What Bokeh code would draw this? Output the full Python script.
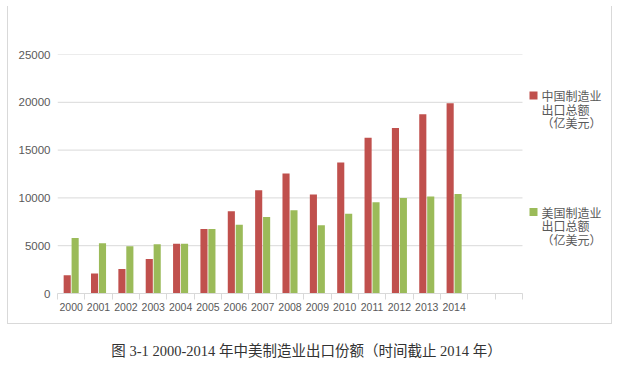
from bokeh.plotting import figure
from bokeh.models import (ColumnDataSource, Range1d, FixedTicker, BasicTickFormatter, LinearAxis)
from bokeh.core.properties import value
from bokeh.transform import dodge
from bokeh.embed import file_html
from bokeh.resources import INLINE

# ---- data ----
years = [2000, 2001, 2002, 2003, 2004, 2005, 2006, 2007, 2008, 2009,
         2010, 2011, 2012, 2013, 2014]
china = [1900, 2100, 2550, 3600, 5200, 6750, 8600, 10800, 12550, 10350,
         13700, 16300, 17300, 18750, 19900]
usa = [5800, 5250, 4950, 5150, 5200, 6750, 7200, 8000, 8700, 7150,
       8350, 9550, 10000, 10150, 10400]
empty_slots = [2015, 2016]          # two empty category slots at the right
y_ticks = [0, 5000, 10000, 15000, 20000, 25000]
series_lines = [["中国制造业", "出口总额", "（亿美元）"],
                ["美国制造业", "出口总额", "（亿美元）"]]
series_colors = ["#C0504D", "#9BBB59"]
caption = "图 3-1 2000-2014 年中美制造业出口份额（时间截止 2014 年）"

GRID = "#D9D9D9"
TXT = "#595959"

# ---- layout geometry (canvas px) ----
W, H = 620, 376
FL, FR, FT, FB = 57, 611, 54, 293          # frame edges
PLOT_R = 522                                # right end of bar area

all_slots = years + empty_slots
x_lo, x_hi = all_slots[0] - 0.5, all_slots[-1] + 0.5
PXU = (PLOT_R - FL) / (x_hi - x_lo)         # px per category
x_end = x_lo + (FR - FL) / PXU              # extend range to host legend
y_lo, y_hi = y_ticks[0], y_ticks[-1]

def dx(px):
    return x_lo + (px - FL) / PXU

def dy(py):
    return y_lo + (FB - py) / (FB - FT) * (y_hi - y_lo)

src = ColumnDataSource(dict(year=years, china=china, usa=usa))

p = figure(width=W, height=H, output_backend="svg", toolbar_location=None,
           x_range=Range1d(x_lo, x_end), y_range=Range1d(y_lo, y_hi),
           min_border_left=FL, min_border_right=W - FR, min_border_top=FT,
           min_border_bottom=H - FB)
p.outline_line_color = None
p.background_fill_color = None
p.border_fill_color = None
p.xgrid.grid_line_color = None
p.ygrid.grid_line_color = None

# chart-area frame lines (left / right / bottom) drawn as CSS background
p.styles = {
    "background-color": "white",
    "background-image": ("linear-gradient(#D9D9D9,#D9D9D9),"
                         "linear-gradient(#D9D9D9,#D9D9D9),"
                         "linear-gradient(#D9D9D9,#D9D9D9)"),
    "background-size": "1px 318px, 1px 318px, 605px 1px",
    "background-position": "7px 6px, 611px 6px, 7px 323px",
    "background-repeat": "no-repeat",
}

# horizontal grid lines limited to the bar area
p.segment(x0=[x_lo] * len(y_ticks), x1=[x_hi] * len(y_ticks), y0=y_ticks, y1=y_ticks,
          line_color=GRID, line_width=1)

p.vbar(x=dodge("year", -0.145), top="china", width=0.26, source=src,
       fill_color=series_colors[0], line_color=None)
p.vbar(x=dodge("year", 0.145), top="usa", width=0.26, source=src,
       fill_color=series_colors[1], line_color=None)

# y axis
yax = p.yaxis[0]
yax.ticker = FixedTicker(ticks=y_ticks)
yax.formatter = BasicTickFormatter(use_scientific=False)
yax.axis_line_color = None
yax.major_tick_line_color = None
yax.major_tick_out = 0
yax.major_tick_in = 0
yax.minor_tick_line_color = None
yax.minor_tick_out = 0
yax.major_label_standoff = 7
yax.major_label_text_font = "Liberation Sans"
yax.major_label_text_font_size = "11.5px"
yax.major_label_text_color = TXT

# x axis: labels at centres, tick marks at boundaries
bounds = [s - 0.5 for s in all_slots] + [all_slots[-1] + 0.5]
xax = p.xaxis[0]
xax.bounds = (x_lo, x_hi)
xax.ticker = FixedTicker(ticks=years, minor_ticks=bounds)
xax.formatter = BasicTickFormatter(use_scientific=False)
xax.axis_line_color = GRID
xax.major_tick_line_color = None
xax.major_tick_out = 0
xax.major_tick_in = 0
xax.minor_tick_line_color = GRID
xax.minor_tick_out = 6
xax.minor_tick_in = 0
xax.major_label_standoff = 3
xax.major_label_text_font = "Liberation Sans"
xax.major_label_text_font_size = "10.5px"
xax.major_label_text_color = TXT

# legend (squares + three-line labels)
leg_top = [95, 211.5]
line_gap = 13.7
sq = ColumnDataSource(dict(x=[dx(533)] * 2, y=[dy(t) for t in leg_top], c=series_colors))
p.rect(x="x", y="y", width=8, height=8, width_units="screen", height_units="screen",
       fill_color="c", line_color=None, source=sq)
lx, ly, lt = [], [], []
for lines, t0 in zip(series_lines, leg_top):
    for i, t in enumerate(lines):
        lx.append(dx(541))
        ly.append(dy(t0 + i * line_gap))
        lt.append(t)
p.text(x=lx, y=ly, text=lt, text_font=value("Noto Sans CJK SC"),
       text_font_size=value("12px"), text_color=TXT,
       text_align="left", text_baseline="middle")

# figure caption, centred under the chart (a label-only axis strip below)
cap_x = dx(306)
cap_axis = LinearAxis(ticker=FixedTicker(ticks=[cap_x]),
                      major_label_overrides={cap_x: caption},
                      axis_line_color=None, major_tick_line_color=None,
                      minor_tick_line_color=None, major_tick_out=0, major_tick_in=0,
                      minor_tick_out=0, minor_tick_in=0,
                      major_label_standoff=29,
                      major_label_text_font="'Liberation Serif', 'Noto Sans CJK SC'",
                      major_label_text_font_size="14.5px",
                      major_label_text_color="#333333")
p.add_layout(cap_axis, "below")

open("out.html", "w").write(file_html(p, INLINE))
